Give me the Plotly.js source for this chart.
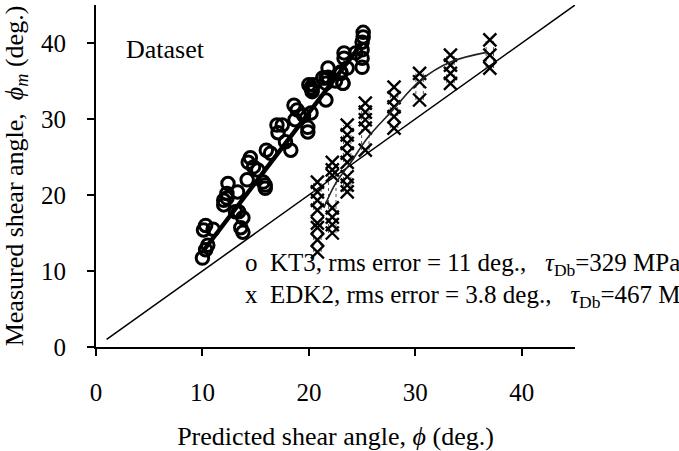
<!DOCTYPE html>
<html><head><meta charset="utf-8">
<script src="https://cdn.plot.ly/plotly-3.0.1.min.js"></script>
</head><body style="margin:0;padding:0;"><div id="chart"></div>
<script>
// KT3 dataset (circles)
const kt3X = [10.0,10.3,10.5,10.1,10.3,12.0,12.3,12.4,12.3,13.3,13.4,13.8,13.6,13.8,15.9,15.7,15.2,15.9,12.0,13.1,
  14.5,14.8,14.3,16.4,17.1,17.0,17.5,18.3,18.7,18.9,18.6,19.9,19.9,20.2,20.3,20.2,20.0,21.6,21.6,21.3,21.8,23.2,23.0,
  25.1,25.1,25.0,25.0,25.0,25.0,23.3,23.3,23.2,23.0,21.6,21.8,20.3,20.4,24.4,23.6,16.0,19.5,22.5,17.8,11.0,14.2];
const kt3Y = [11.7,12.8,13.4,15.4,16.0,18.7,19.6,21.5,20.2,20.4,17.8,17.0,15.7,15.1,20.9,21.7,23.3,21.3,19.3,17.8,
  24.9,23.7,24.3,25.5,28.2,29.2,29.2,25.9,29.9,31.2,31.8,28.9,28.3,30.8,33.6,34.1,34.5,32.5,34.7,35.4,35.5,34.7,36.2,
  41.4,40.8,40.1,39.1,38.0,36.8,38.7,38.0,34.7,36.0,35.4,36.7,33.8,34.5,38.7,36.7,25.9,30.5,35.0,27.0,15.5,22.0];
const kt3FitX = [10, 25];
const kt3FitY = [12.5, 40];

// EDK2 dataset (crosses)
const edk2X = [20.8,20.8,20.8,20.8,20.8,20.8,20.8,20.8,
  22.2,22.2,22.2,22.2,22.2,22.2,22.2,
  23.6,23.6,23.6,23.6,23.6,23.6,23.6,23.6,
  25.3,25.3,25.3,25.3,25.3,
  28.0,28.0,28.0,28.0,28.0,
  30.4,30.4,30.4,
  33.3,33.3,33.3,33.3,
  37.0,37.0,37.0];
const edk2Y = [21.7,20.4,19.3,18.0,16.3,15.7,14.1,12.5,
  24.3,23.3,22.6,18.3,17.1,16.1,15.0,
  29.2,27.9,26.8,25.5,24.3,22.4,21.3,20.4,
  32.1,30.9,29.9,28.8,25.9,
  34.2,32.8,31.6,30.3,28.8,
  36.0,34.9,32.5,
  38.4,37.1,36.0,34.7,
  40.4,38.4,36.7];
const edk2CurveX = [21.4, 22.5, 23.9, 25.5, 27.7, 30.5, 33.3, 36.8];
const edk2CurveY = [18.3, 21.5, 24.2, 27.5, 30.9, 35.1, 37.5, 38.8];

// reference line y = x
const refX = [1, 45];
const refY = [1, 45];

const xTicks = [0, 10, 20, 30, 40];
const yTicks = [0, 10, 20, 30, 40];

// dotted vertical range lines per EDK2 column
const cols = [...new Set(edk2X)];
const rangeX = [], rangeY = [];
cols.forEach(c => {
  const ys = edk2Y.filter((v, i) => edk2X[i] === c);
  rangeX.push(c - 0.35, c - 0.35, null, c + 0.35, c + 0.35, null);
  rangeY.push(Math.min(...ys), Math.max(...ys), null, Math.min(...ys), Math.max(...ys), null);
});

const FONT = 'Liberation Serif';

const traces = [
  {x: refX, y: refY, mode: 'lines', line: {color: '#000', width: 1.5}, hoverinfo: 'skip'},
  {x: rangeX, y: rangeY, mode: 'lines', line: {color: '#555', width: 1, dash: 'dot'}, hoverinfo: 'skip', connectgaps: false},
  {x: edk2X, y: edk2Y, mode: 'markers', name: 'EDK2',
   marker: {symbol: 'x-thin-open', size: 13, color: '#000', line: {color: '#000', width: 2.4}}},
  {x: edk2CurveX, y: edk2CurveY, mode: 'lines', line: {color: '#222', width: 1.6, shape: 'spline'}, hoverinfo: 'skip'},
  {x: kt3X, y: kt3Y, mode: 'markers', name: 'KT3',
   marker: {symbol: 'circle-open', size: 12.5, color: '#000', line: {color: '#000', width: 3}}},
  {x: kt3FitX, y: kt3FitY, mode: 'lines', line: {color: '#000', width: 4.5}, hoverinfo: 'skip'}
];

const axisCommon = {
  showline: true, linecolor: '#000', linewidth: 2, mirror: false,
  ticks: 'outside', ticklen: 7, tickwidth: 2, tickcolor: '#000',
  showgrid: false, zeroline: false,
  tickfont: {family: FONT, size: 25, color: '#000'}
};

const layout = {
  width: 679, height: 451,
  font: {family: FONT, size: 26, color: '#000'},
  margin: {l: 96, r: 104, t: 5, b: 104},
  paper_bgcolor: '#fff', plot_bgcolor: '#fff',
  showlegend: false,
  xaxis: Object.assign({}, axisCommon, {
    range: [0, 45], tickvals: xTicks, ticktext: xTicks.map(String), ticklabelstandoff: 15,
    title: {text: 'Predicted shear angle, <i>ϕ</i> (deg.)', font: {family: FONT, size: 26, color: '#000'}, standoff: 27}
  }),
  yaxis: Object.assign({}, axisCommon, {
    range: [0, 45], tickvals: yTicks, ticktext: yTicks.map(String), ticklabelstandoff: 16,
    title: {text: 'Measured shear angle,  <i>ϕ<sub>m</sub></i> (deg.)', font: {family: FONT, size: 26, color: '#000'}, standoff: 14}
  }),
  annotations: [
    {x: 2.6, y: 39.2, xref: 'x', yref: 'y', xanchor: 'left', yanchor: 'middle', showarrow: false,
     text: 'Dataset', font: {family: FONT, size: 26, color: '#000'}},
    {x: 13.8, y: 10.8, xref: 'x', yref: 'y', xanchor: 'left', yanchor: 'middle', showarrow: false,
     text: 'o&nbsp; KT3, rms error = 11 deg.,&nbsp;&nbsp; <i>τ</i><sub>Db</sub>=329 MPa', font: {family: FONT, size: 25, color: '#000'}},
    {x: 13.8, y: 6.7, xref: 'x', yref: 'y', xanchor: 'left', yanchor: 'middle', showarrow: false,
     text: 'x&nbsp; EDK2, rms error = 3.8 deg.,&nbsp;&nbsp; <i>τ</i><sub>Db</sub>=467 MPa', font: {family: FONT, size: 25, color: '#000'}}
  ]
};

Plotly.newPlot('chart', traces, layout, {displayModeBar: false});
</script></body></html>
